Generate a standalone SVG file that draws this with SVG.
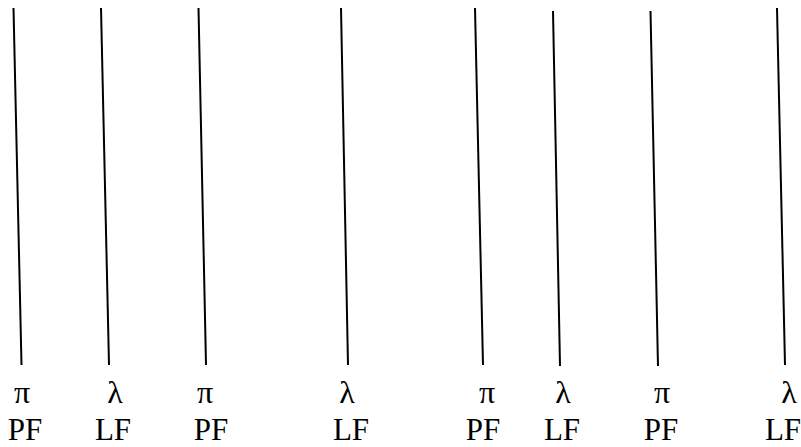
<svg xmlns="http://www.w3.org/2000/svg" width="801" height="447" viewBox="0 0 801 447">
  <style>
    .edge { stroke: #000; stroke-width: 2; fill: none; }
    text { font-family: 'Liberation Serif', 'DejaVu Serif', serif; font-size: 32px; fill: #000; text-anchor: middle; }
    text.cat { font-size: 31px; }
  </style>
  <rect width="801" height="447" fill="#fff"/>
  <g id="connectors">
    <line class="edge" x1="13.5" y1="8" x2="21.5" y2="365"/>
    <line class="edge" x1="101" y1="8" x2="109" y2="365"/>
    <line class="edge" x1="198.5" y1="8" x2="206" y2="365"/>
    <line class="edge" x1="341" y1="8" x2="348" y2="365"/>
    <line class="edge" x1="475" y1="8" x2="483" y2="365"/>
    <line class="edge" x1="553" y1="11" x2="560" y2="366"/>
    <line class="edge" x1="650.5" y1="11" x2="658" y2="366"/>
    <line class="edge" x1="777" y1="8" x2="785" y2="365"/>
  </g>
  <g id="n1"><text x="22" y="403">π</text><text class="cat" x="25" y="440">PF</text></g>
  <g id="n2"><text x="115" y="403">λ</text><text class="cat" x="113" y="440">LF</text></g>
  <g id="n3"><text x="205" y="403">π</text><text class="cat" x="211" y="440">PF</text></g>
  <g id="n4"><text x="347" y="403">λ</text><text class="cat" x="351" y="440">LF</text></g>
  <g id="n5"><text x="487" y="403">π</text><text class="cat" x="483" y="440">PF</text></g>
  <g id="n6"><text x="563" y="403">λ</text><text class="cat" x="562" y="440">LF</text></g>
  <g id="n7"><text x="662" y="403">π</text><text class="cat" x="661" y="440">PF</text></g>
  <g id="n8"><text x="789" y="403">λ</text><text class="cat" x="783" y="440">LF</text></g>
</svg>
